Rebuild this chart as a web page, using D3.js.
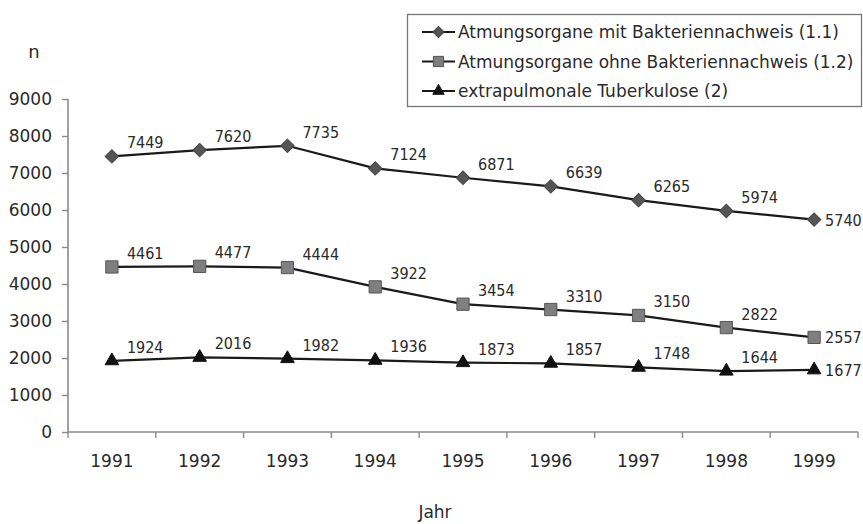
<!DOCTYPE html>
<html><head><meta charset="utf-8">
<script src="https://cdn.jsdelivr.net/npm/d3@7"></script>
<style>body{margin:0;background:#fff;}svg{display:block;}</style>
</head><body>
<svg id="c" width="863" height="524"></svg>
<script>
const years = ["1991","1992","1993","1994","1995","1996","1997","1998","1999"];
const mitBakterien = [7449,7620,7735,7124,6871,6639,6265,5974,5740];
const ohneBakterien = [4461,4477,4444,3922,3454,3310,3150,2822,2557];
const extrapulmonal = [1924,2016,1982,1936,1873,1857,1748,1644,1677];
const seriesNames = ["Atmungsorgane mit Bakteriennachweis (1.1)","Atmungsorgane ohne Bakteriennachweis (1.2)","extrapulmonale Tuberkulose (2)"];
const yTicks = [0,1000,2000,3000,4000,5000,6000,7000,8000,9000];

const svg = d3.select("#c");
const fontC = "'DejaVu Sans Condensed','DejaVu Sans',sans-serif";
const font = "'DejaVu Sans',sans-serif";
const txt = "#2a2a2a";
const axisCol = "#8a8a8a";
const L = 68, R = 858, T = 99, B = 432;
const x = d3.scaleBand().domain(years).range([L, R]);
const y = d3.scaleLinear().domain([0, 9000]).range([B, T]);

// axes
const yAxis = svg.append("g").attr("transform", `translate(${L},0)`)
  .call(d3.axisLeft(y).tickValues(yTicks).tickSize(6).tickPadding(10).tickFormat(d3.format("d")));
const xAxis = svg.append("g").attr("transform", `translate(0,${B})`)
  .call(d3.axisBottom(x).tickSize(0).tickPadding(23));
[yAxis, xAxis].forEach(g => {
  g.selectAll("path").attr("stroke", axisCol).attr("stroke-width", 1.6);
  g.selectAll("line").attr("stroke", axisCol).attr("stroke-width", 1.4);
  g.selectAll("text").attr("fill", txt).style("font-family", font).style("font-size", "17px");
});
yAxis.select("path").attr("d", `M0,${B}V${T}`);
xAxis.select("path").attr("d", `M${L},0H${R}`);
// x ticks at band boundaries
svg.append("g").selectAll("line").data(years.concat(["end"])).join("line")
  .attr("x1", (d,i) => L + i * x.step()).attr("x2", (d,i) => L + i * x.step())
  .attr("y1", B).attr("y2", B + 6).attr("stroke", axisCol).attr("stroke-width", 1.4);

svg.append("text").attr("x", 34).attr("y", 58).attr("text-anchor","middle")
  .attr("fill", txt).style("font-family", font).style("font-size","18px").text("n");
svg.append("text").attr("x", 435).attr("y", 518).attr("text-anchor","middle")
  .attr("fill", txt).style("font-family", font).style("font-size","17px").text("Jahr");

const series = [
  {name: seriesNames[0], values: mitBakterien, shape: d3.symbolSquare, rot: 45, size: 90, fill: "#555", stroke: "#444"},
  {name: seriesNames[1], values: ohneBakterien, shape: d3.symbolSquare, rot: 0, size: 150, fill: "#7f7f7f", stroke: "#555"},
  {name: seriesNames[2], values: extrapulmonal, shape: d3.symbolTriangle, rot: 0, size: 80, fill: "#111", stroke: "#111"}
];
const cx = d => x(d) + x.bandwidth() / 2;
const line = d3.line().x((d,i) => cx(years[i])).y(d => y(d));

series.forEach(s => {
  const g = svg.append("g");
  g.append("path").attr("d", line(s.values)).attr("fill","none").attr("stroke","#1a1a1a").attr("stroke-width", 2.2);
  g.selectAll("path.m").data(s.values).join("path").attr("class","m")
    .attr("transform", (d,i) => `translate(${cx(years[i])},${y(d)}) rotate(${s.rot})`)
    .attr("d", d3.symbol().type(s.shape).size(s.size))
    .attr("fill", s.fill).attr("stroke", s.stroke).attr("stroke-width", 1);
  g.selectAll("text").data(s.values).join("text")
    .attr("x", (d,i) => cx(years[i]) + (i === years.length - 1 ? 11 : 15))
    .attr("y", (d,i) => y(d) + (i === years.length - 1 ? 6 : -8))
    .attr("fill", txt).style("font-family", fontC).style("font-size","16px")
    .text(d => d);
});

// legend
const lg = svg.append("g");
lg.append("rect").attr("x", 407.5).attr("y", 14.5).attr("width", 454).attr("height", 92)
  .attr("fill","#fff").attr("stroke","#777").attr("stroke-width", 1.3);
series.forEach((s, i) => {
  const yy = 32 + i * 29.5;
  lg.append("line").attr("x1", 422).attr("x2", 455).attr("y1", yy).attr("y2", yy)
    .attr("stroke","#1a1a1a").attr("stroke-width", 2.2);
  lg.append("path").attr("transform", `translate(438.5,${yy}) rotate(${s.rot})`)
    .attr("d", d3.symbol().type(s.shape).size(s.size * 0.7))
    .attr("fill", s.fill).attr("stroke", s.stroke).attr("stroke-width", 1);
  lg.append("text").attr("x", 458).attr("y", yy + 6).attr("fill", txt)
    .style("font-family", font).style("font-size","17px").text(s.name);
});
</script>
</body></html>
